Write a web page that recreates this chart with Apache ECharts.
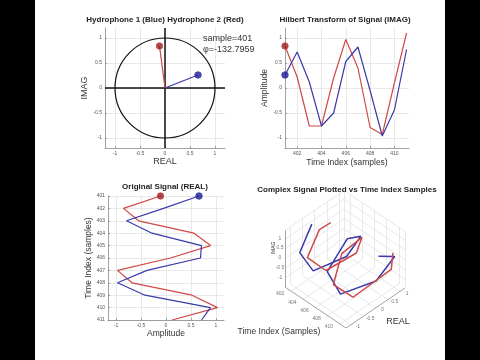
<!DOCTYPE html>
<html><head><meta charset="utf-8">
<script src="https://cdn.jsdelivr.net/npm/echarts@6/dist/echarts.min.js"></script>
<style>html,body{margin:0;padding:0;background:#000}#c{width:480px;height:360px}</style>
</head><body><div id="c"></div><script>
// ---------------- data ----------------
const samples   = [401, 402, 403, 404, 405, 406, 407, 408, 409, 410, 411];
// Hydrophone 1 (blue)
const hyd1Real  = [0.66, -0.05, -0.79, -0.28, 0.71, 0.69, -0.38, -0.97, -0.42, 0.89, 0.71];
const hyd1Imag  = [0.26, 0.72, 0.12, -0.76, -0.50, 0.53, 0.82, -0.05, -0.96, -0.44, 0.77];
// Hydrophone 2 (red)
const hyd2Real  = [-0.11, -0.85, -0.55, 0.56, 0.89, 0.09, -0.97, -0.68, 0.52, 1.03, 0.12];
const hyd2Imag  = [0.84, 0.22, -0.76, -0.76, 0.20, 0.97, 0.40, -0.79, -0.93, 0.10, 1.10];
const ampTicks  = [-1, -0.5, 0, 0.5, 1];
const timeTicks = [402, 404, 406, 408, 410];
const sampleText = 'sample=401';
const phaseText  = 'φ=-132.7959';

// ---------------- style ----------------
const FONT = 'Liberation Sans, Arial, sans-serif';
const RED = '#d04848', BLUE = '#3a3aaa';
const RED_DOT = '#931c1c', BLUE_DOT = '#1b1b92';
const AX = '#8a8a8a', GRIDC = '#e2e2e2';

function axis(o) {
  const a = {
    type: 'value', gridIndex: o.g, min: o.min, max: o.max, inverse: !!o.inverse,
    name: o.name, nameLocation: 'middle', nameGap: o.gap,
    nameTextStyle: {fontSize: o.nameSize || 9, color: '#333', fontFamily: FONT},
    axisLine: {show: true, onZero: false, lineStyle: {color: AX, width: 0.8}},
    axisTick: {show: true, inside: true, length: 2, lineStyle: {color: AX, width: 0.8}},
    axisLabel: {fontSize: 5, color: '#555', margin: 3, fontFamily: FONT, showMinLabel: true, showMaxLabel: true},
    splitLine: {show: true, lineStyle: {color: GRIDC, width: 0.8}}
  };
  if (o.interval) a.interval = o.interval;
  else { a.axisTick.customValues = o.ticks; a.axisLabel.customValues = o.ticks; }
  return a;
}

// ---------------- 3D oblique projection ----------------
const T_MIN = 401, T_MAX = 411, R_MIN = -1.2, R_MAX = 1.2, I_MIN = -1.45, I_MAX = 1.45;
const view = {t: [61, 41], r: [59, -40], i: [0, -56.6]}; // screen direction of each full axis span
function proj(t, r, i) {
  const nt = (t - T_MIN) / (T_MAX - T_MIN), nr = (r - R_MIN) / (R_MAX - R_MIN), ni = (i - I_MIN) / (I_MAX - I_MIN);
  return [nt * view.t[0] + nr * view.r[0] + ni * view.i[0], nt * view.t[1] + nr * view.r[1] + ni * view.i[1]];
}
const uMax = view.t[0] + view.r[0], vMin = view.r[1] + view.i[1], vMax = view.t[1];

const gridSegs = [];
timeTicks.forEach(t => gridSegs.push([proj(t, R_MIN, I_MIN), proj(t, R_MAX, I_MIN)]));
ampTicks.forEach(r => gridSegs.push([proj(T_MIN, r, I_MIN), proj(T_MAX, r, I_MIN)]));
ampTicks.forEach(r => gridSegs.push([proj(T_MIN, r, I_MIN), proj(T_MIN, r, I_MAX)]));
ampTicks.forEach(i => gridSegs.push([proj(T_MIN, R_MIN, i), proj(T_MIN, R_MAX, i)]));
timeTicks.forEach(t => gridSegs.push([proj(t, R_MAX, I_MIN), proj(t, R_MAX, I_MAX)]));
ampTicks.forEach(i => gridSegs.push([proj(T_MIN, R_MAX, i), proj(T_MAX, R_MAX, i)]));
gridSegs.push([proj(T_MIN, R_MAX, I_MIN), proj(T_MIN, R_MAX, I_MAX)]);
gridSegs.push([proj(T_MIN, R_MIN, I_MAX), proj(T_MIN, R_MAX, I_MAX)]);
gridSegs.push([proj(T_MIN, R_MAX, I_MAX), proj(T_MAX, R_MAX, I_MAX)]);
gridSegs.push([proj(T_MAX, R_MAX, I_MIN), proj(T_MAX, R_MAX, I_MAX)]);
const axisSegs = [
  [proj(T_MIN, R_MIN, I_MIN), proj(T_MIN, R_MIN, I_MAX)],
  [proj(T_MIN, R_MIN, I_MIN), proj(T_MAX, R_MIN, I_MIN)],
  [proj(T_MAX, R_MIN, I_MIN), proj(T_MAX, R_MAX, I_MIN)]
];
const tickLabels3d = [];
timeTicks.forEach(t => tickLabels3d.push({value: proj(t, R_MIN, I_MIN).concat([String(t)]), off: [-11, 3]}));
ampTicks.forEach(r => tickLabels3d.push({value: proj(T_MAX, r, I_MIN).concat([String(r)]), off: [7, 2]}));
ampTicks.forEach(i => tickLabels3d.push({value: proj(T_MIN, R_MIN, i).concat([String(i)]), off: [-5, -1]}));

function text(x, y, t, size, bold, rot, color) {
  return {type: 'text', x: x, y: y, rotation: rot || 0, z: 100,
    style: {text: t, font: (bold ? 'bold ' : '') + size + 'px ' + FONT, fill: color || '#222',
      align: 'center', verticalAlign: 'middle', textAlign: 'center', textVerticalAlign: 'middle'}};
}

const option = {
  animation: false,
  backgroundColor: '#ffffff',
  grid: [
    {left: 105, top: 28, width: 120, height: 120},
    {left: 285, top: 28, width: 124, height: 120},
    {left: 108, top: 196, width: 116, height: 124},
    {left: 285, top: 287 + vMin, width: uMax, height: vMax - vMin, show: false}
  ],
  xAxis: [
    axis({g: 0, min: -1.2, max: 1.2, ticks: ampTicks, name: 'REAL', gap: 9}),
    axis({g: 1, min: 401, max: 411.2, ticks: timeTicks, name: 'Time Index (samples)', gap: 10, nameSize: 8.5}),
    axis({g: 2, min: -1.16, max: 1.16, ticks: ampTicks, name: 'Amplitude', gap: 9, nameSize: 8.5}),
    {type: 'value', gridIndex: 3, min: 0, max: uMax, show: false}
  ],
  yAxis: [
    axis({g: 0, min: -1.2, max: 1.2, ticks: ampTicks, name: 'IMAG', gap: 8}),
    axis({g: 1, min: -1.2, max: 1.2, ticks: ampTicks, name: 'Amplitude', gap: 8, nameSize: 8.5}),
    axis({g: 2, min: 401, max: 411, interval: 1, inverse: true, name: 'Time Index (samples)', gap: 13, nameSize: 8.5}),
    {type: 'value', gridIndex: 3, min: vMin, max: vMax, inverse: true, show: false}
  ],
  graphic: [
    {type: 'rect', shape: {x: 0, y: 0, width: 35, height: 360}, style: {fill: '#000'}, z: 100},
    {type: 'rect', shape: {x: 445, y: 0, width: 35, height: 360}, style: {fill: '#000'}, z: 100},
    text(165, 20, 'Hydrophone 1 (Blue) Hydrophone 2 (Red)', 8, true),
    text(345, 20, 'Hilbert Transform of Signal (IMAG)', 8, true),
    text(165, 187, 'Original Signal (REAL)', 8, true),
    text(347, 190, 'Complex Signal Plotted vs Time Index Samples', 8, true),
    {type: 'text', x: 203, y: 39, z: 100, style: {text: sampleText, font: '9px ' + FONT, fill: '#333', align: 'left', verticalAlign: 'middle', textVerticalAlign: 'middle'}},
    {type: 'text', x: 203, y: 50, z: 100, style: {text: phaseText, font: '9px ' + FONT, fill: '#333', align: 'left', verticalAlign: 'middle', textVerticalAlign: 'middle'}},
    text(274, 248, 'IMAG', 5, false, Math.PI / 2, '#333'),
    text(398, 322, 'REAL', 9, false, 0, '#333'),
    text(279, 332, 'Time Index (Samples)', 8.5, false, 0, '#333')
  ],
  series: [
    // --- complex plane ---
    {type: 'custom', xAxisIndex: 0, yAxisIndex: 0, data: [[0, 0, 1]], silent: true, z: 3,
      renderItem: (p, api) => {
        const c = api.coord([api.value(0), api.value(1)]);
        const e = api.coord([api.value(0) + api.value(2), api.value(1)]);
        return {type: 'circle', shape: {cx: c[0], cy: c[1], r: e[0] - c[0]}, style: {fill: 'none', stroke: '#111', lineWidth: 1.2}};
      }},
    {type: 'line', xAxisIndex: 0, yAxisIndex: 0, data: [[-1.2, 0], [1.2, 0]], symbol: 'none', lineStyle: {color: '#111', width: 1.5}, z: 3},
    {type: 'line', xAxisIndex: 0, yAxisIndex: 0, data: [[0, -1.2], [0, 1.2]], symbol: 'none', lineStyle: {color: '#111', width: 1.5}, z: 3},
    {type: 'line', xAxisIndex: 0, yAxisIndex: 0, data: [[0, 0], [hyd1Real[0], hyd1Imag[0]]], symbol: 'none', lineStyle: {color: BLUE, width: 1.2}, z: 4},
    {type: 'line', xAxisIndex: 0, yAxisIndex: 0, data: [[0, 0], [hyd2Real[0], hyd2Imag[0]]], symbol: 'none', lineStyle: {color: RED, width: 1.2}, z: 4},
    {type: 'scatter', xAxisIndex: 0, yAxisIndex: 0, data: [[hyd1Real[0], hyd1Imag[0]]], symbolSize: 6.5, itemStyle: {color: BLUE_DOT, borderColor: BLUE, borderWidth: 1}, z: 5},
    {type: 'scatter', xAxisIndex: 0, yAxisIndex: 0, data: [[hyd2Real[0], hyd2Imag[0]]], symbolSize: 6.5, itemStyle: {color: RED_DOT, borderColor: RED, borderWidth: 1}, z: 5},
    // --- Hilbert (imag) vs time ---
    {type: 'line', xAxisIndex: 1, yAxisIndex: 1, data: samples.map((t, k) => [t, hyd2Imag[k]]), symbol: 'none', lineStyle: {color: RED, width: 1.2}, z: 3},
    {type: 'line', xAxisIndex: 1, yAxisIndex: 1, data: samples.map((t, k) => [t, hyd1Imag[k]]), symbol: 'none', lineStyle: {color: BLUE, width: 1.2}, z: 3},
    {type: 'scatter', xAxisIndex: 1, yAxisIndex: 1, data: [[samples[0], hyd1Imag[0]]], symbolSize: 6.5, itemStyle: {color: BLUE_DOT, borderColor: BLUE, borderWidth: 1}, z: 5},
    {type: 'scatter', xAxisIndex: 1, yAxisIndex: 1, data: [[samples[0], hyd2Imag[0]]], symbolSize: 6.5, itemStyle: {color: RED_DOT, borderColor: RED, borderWidth: 1}, z: 5},
    // --- original (real) vs time, vertical ---
    {type: 'line', xAxisIndex: 2, yAxisIndex: 2, data: samples.map((t, k) => [hyd2Real[k], t]), symbol: 'none', lineStyle: {color: RED, width: 1.2}, z: 3},
    {type: 'line', xAxisIndex: 2, yAxisIndex: 2, data: samples.map((t, k) => [hyd1Real[k], t]), symbol: 'none', lineStyle: {color: BLUE, width: 1.2}, z: 3},
    {type: 'scatter', xAxisIndex: 2, yAxisIndex: 2, data: [[hyd1Real[0], samples[0]]], symbolSize: 6.5, itemStyle: {color: BLUE_DOT, borderColor: BLUE, borderWidth: 1}, z: 5},
    {type: 'scatter', xAxisIndex: 2, yAxisIndex: 2, data: [[hyd2Real[0], samples[0]]], symbolSize: 6.5, itemStyle: {color: RED_DOT, borderColor: RED, borderWidth: 1}, z: 5},
    // --- 3D ---
    {type: 'lines', coordinateSystem: 'cartesian2d', xAxisIndex: 3, yAxisIndex: 3, data: gridSegs.map(c => ({coords: c})), lineStyle: {color: GRIDC, width: 0.8, opacity: 1}, silent: true, z: 1},
    {type: 'lines', coordinateSystem: 'cartesian2d', xAxisIndex: 3, yAxisIndex: 3, data: axisSegs.map(c => ({coords: c})), lineStyle: {color: AX, width: 0.8, opacity: 1}, silent: true, z: 2},
    {type: 'scatter', xAxisIndex: 3, yAxisIndex: 3, symbolSize: 0, silent: true, z: 2,
      data: tickLabels3d.map(d => ({value: d.value, label: {offset: d.off}})),
      label: {show: true, position: 'inside', formatter: p => p.value[2], fontSize: 5, color: '#555', fontFamily: FONT}},
    {type: 'line', xAxisIndex: 3, yAxisIndex: 3, data: samples.map((t, k) => proj(t, hyd2Real[k], hyd2Imag[k])), symbol: 'none', lineStyle: {color: BLUE, width: 1.5}, z: 3},
    {type: 'line', xAxisIndex: 3, yAxisIndex: 3, data: samples.map((t, k) => proj(t, hyd1Real[k], hyd1Imag[k])), symbol: 'none', lineStyle: {color: RED, width: 1.5}, z: 3}
  ]
};
const chart = echarts.init(document.getElementById('c'));
chart.setOption(option);
</script></body></html>
